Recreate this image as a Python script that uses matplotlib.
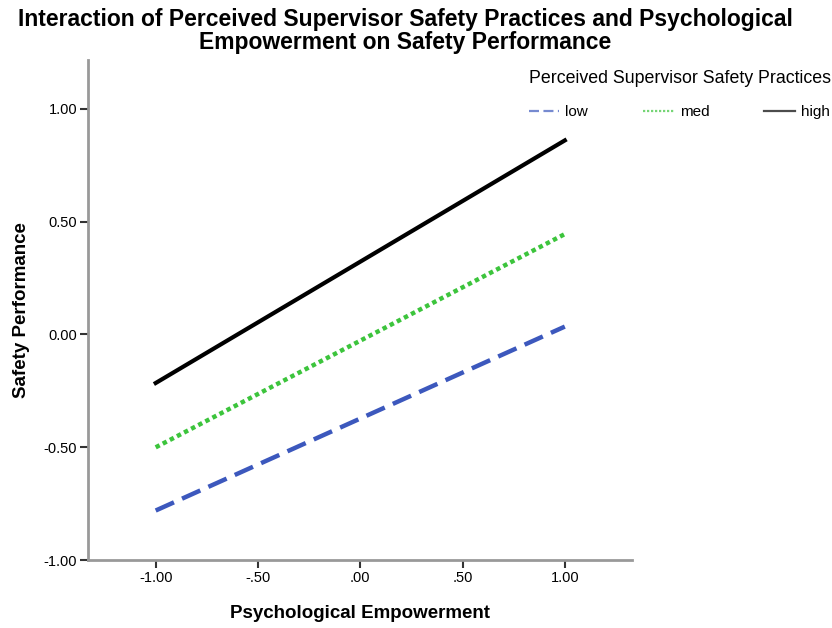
import numpy as np
import matplotlib.pyplot as plt

plt.rcParams['font.family'] = ['Liberation Sans', 'DejaVu Sans']

# data
x_pe = [-1.0, 1.0]
y_low = [-0.78, 0.035]
y_med = [-0.50, 0.445]
y_high = [-0.215, 0.86]
group_labels = ['low', 'med', 'high']

fig = plt.figure(figsize=(8.32, 6.28), dpi=100)
ax = fig.add_axes([0.106, 0.108, 0.654, 0.796])

ax.plot(x_pe, y_low, color='#3c58bd', lw=3.2, ls=(0, (4.5, 2)), label=group_labels[0])
ax.plot(x_pe, y_med, color='#3cc43c', lw=3.2, ls=(0, (1, 0.8)), label=group_labels[1])
ax.plot(x_pe, y_high, color='black', lw=3.0, label=group_labels[2])

ax.set_xlim(-1.33, 1.33)
ax.set_ylim(-1.0, 1.215)
ax.set_xticks([-1, -0.5, 0, 0.5, 1])
ax.set_xticklabels(['-1.00', '-.50', '.00', '.50', '1.00'])
ax.set_yticks([-1, -0.5, 0, 0.5, 1])
ax.set_yticklabels(['-1.00', '-0.50', '0.00', '0.50', '1.00'])

for s in ['top', 'right']:
    ax.spines[s].set_visible(False)
for s in ['left', 'bottom']:
    ax.spines[s].set_color('#999999')
    ax.spines[s].set_linewidth(2)
ax.tick_params(direction='out', length=6, width=1.5, color='#333333', labelsize=10.5, pad=2)

ax.set_xlabel('Psychological Empowerment', fontsize=13.5, fontweight='bold', labelpad=14)
ax.set_ylabel('Safety Performance', fontsize=13.5, fontweight='bold', labelpad=10)
fig.suptitle('Interaction of Perceived Supervisor Safety Practices and Psychological\n'
             'Empowerment on Safety Performance', fontsize=16.5, fontweight='bold',
             x=0.487, y=0.988, linespacing=1.0)

leg = fig.legend(loc='upper left', bbox_to_anchor=(0.628, 0.898), ncol=3, frameon=False,
                 title='Perceived Supervisor Safety Practices', title_fontsize=12.8,
                 fontsize=11, handlelength=2.0, handletextpad=0.4, columnspacing=3.6,
                 borderaxespad=0, labelspacing=0.3)
leg._legend_box.align = 'left'
leg._legend_box.sep = 13
for h in leg.legend_handles:
    h.set_linewidth(1.6)
    h.set_alpha(0.7)

fig.savefig('out.png', dpi=100)
